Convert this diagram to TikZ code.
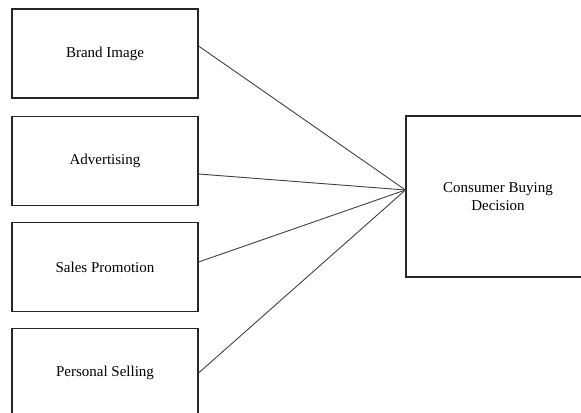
\documentclass[tikz,border=0pt]{standalone}
\usepackage{fontspec}
\setmainfont{Liberation Serif}
\usetikzlibrary{calc}
\begin{document}
\begin{tikzpicture}[x=1bp,y=-1bp,
  factor/.style={draw=black!85, line width=1.1bp, fill=white, minimum width=186bp,
    minimum height=89bp, inner sep=0pt, align=center, font=\fontsize{15bp}{18bp}\selectfont},
  outcome/.style={factor, minimum width=184bp, minimum height=161bp},
  link/.style={draw=black!75, line width=0.9bp}]
\useasboundingbox (0,0) rectangle (581,412);
\begin{scope}
\clip (0,0) rectangle (581,412);
% independent variables
\node[factor] (brand) at (105,53.5) {Brand Image};
\node[factor] (adv)   at (105,161)  {Advertising};
\node[factor] (sales) at (105,267)  {Sales Promotion};
\node[factor] (sell)  at (105,373)  {Personal Selling};
% dependent variable
\node[outcome] (cbd) at (498,196.5) {Consumer Buying\\Decision};
\coordinate (meet) at ($(cbd.west)+(0,-6.5)$);
% relations
\draw[link] ($(brand.east)+(0,-7.5)$) -- (meet);
\draw[link] ($(adv.east)+(0,13)$) -- (meet);
\draw[link] ($(sales.east)+(0,-5)$) -- (meet);
\draw[link] (sell.east) -- (meet);
\end{scope}
\end{tikzpicture}
\end{document}
